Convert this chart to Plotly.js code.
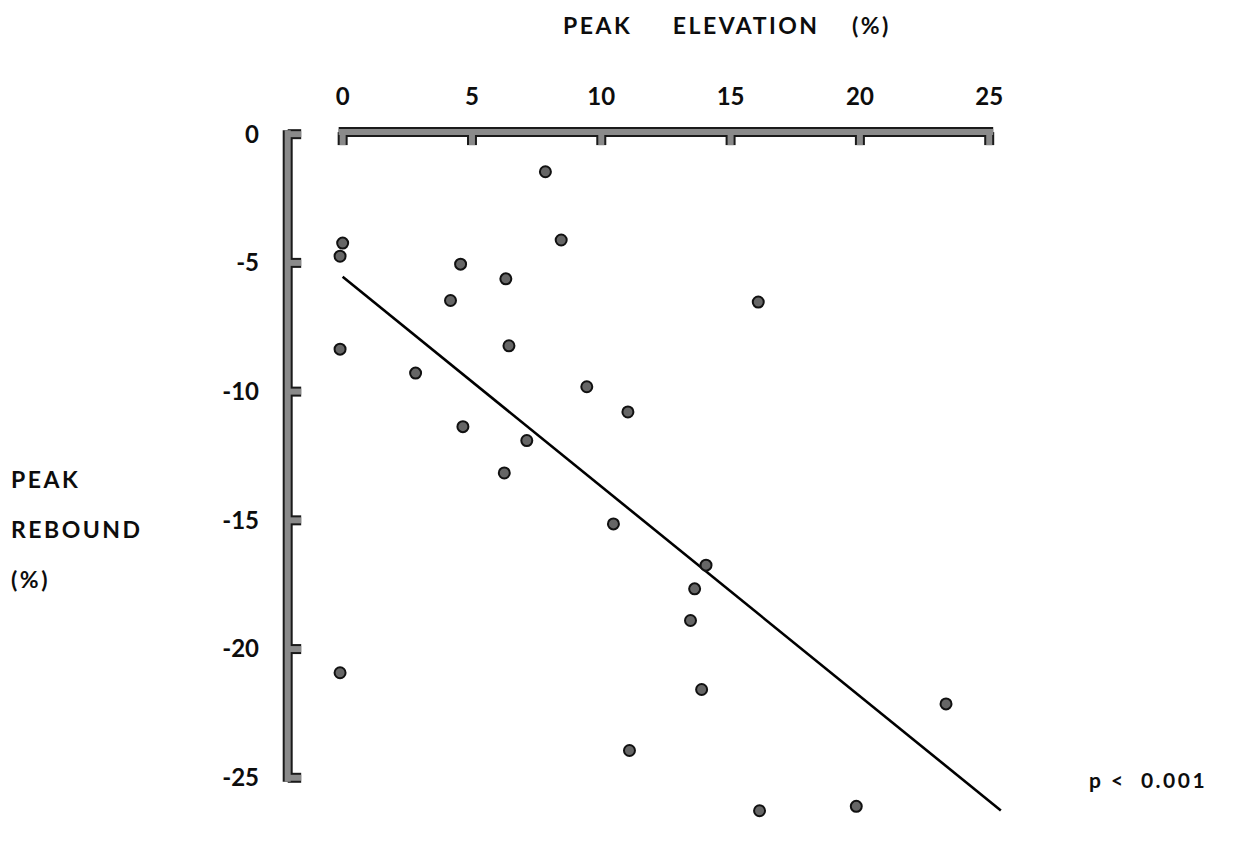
<!DOCTYPE html>
<html>
<head>
<meta charset="utf-8">
<script src="https://cdn.plot.ly/plotly-3.0.1.min.js"></script>
<style>
html,body{margin:0;padding:0;background:#fff;}
.annotation-text, .gtitle { letter-spacing: 2.5px; }
</style>
</head>
<body>
<div id="chart" style="width:1241px;height:851px;"></div>
<script>
// Data
const elevation = [7.84, 0.0, -0.1, 8.45, 4.56, 6.31, 4.17, 16.07, -0.1, 6.43, 2.82, 9.44, 11.03, 4.65, 7.12, 6.25,
                   10.47, 14.05, 13.61, 13.45, 13.88, 11.09, 23.33, 16.12, 19.86, 22.98, -0.1];
const rebound   = [-1.46, -4.23, -4.74, -4.11, -5.05, -5.62, -6.46, -6.52, -8.35, -8.22, -9.28, -9.81, -10.79, -11.36, -11.90, -13.16,
                   -15.14, -16.74, -17.66, -18.89, -21.57, -23.94, -22.13, -26.28, -26.11, -27.51, -20.92];
const fitX = [0, 25.45];
const fitY = [-5.54, -26.27];
const xTicks = [0, 5, 10, 15, 20, 25];
const yTicks = [0, -5, -10, -15, -20, -25];
const yTitleLines = ['PEAK', 'REBOUND', '(%)'];

const FONT = 'Lato, "Open Sans", sans-serif';
const TXT = '#0d0d0d';
const pxX = 25.88, pxY = 25.76;          // pixels per data unit
const yAxisX = -2.125;                    // where the y axis sits in x units
const xAxisY = 0.08;                      // where the x axis sits in y units

// Bracket-style axes drawn as shapes (dark outline + gray fill)
const segs = [];
const capX = 4 / pxX, capY = 4 / pxY;
segs.push([-capX, xAxisY, 25 + capX, xAxisY]);
xTicks.forEach(t => segs.push([t, xAxisY, t, xAxisY - 13 / pxY]));
segs.push([yAxisX, capY, yAxisX, -25 - capY]);
yTicks.forEach(t => segs.push([yAxisX, t, yAxisX + 13.5 / pxX, t]));
const shapes = [];
segs.forEach(s => shapes.push({type:'line', xref:'x', yref:'y', x0:s[0], y0:s[1], x1:s[2], y1:s[3],
  line:{color:'#1a1a1a', width:10}}));
segs.forEach(s => shapes.push({type:'line', xref:'x', yref:'y', x0:s[0], y0:s[1], x1:s[2], y1:s[3],
  line:{color:'#8a8a8a', width:6}}));

const traces = [
  {x: fitX, y: fitY, mode:'lines', line:{color:'#000', width:2.6}, hoverinfo:'skip', showlegend:false},
  {x: elevation, y: rebound, mode:'markers', cliponaxis:false, showlegend:false,
   marker:{size:11, color:'#666666', line:{color:'#111', width:2}}}
];

const annotations = yTitleLines.map((t, i) => ({
  text: '<b>' + t + '</b>', xref:'paper', yref:'paper', x: (9 - 278) / 750.5, xanchor:'left',
  y: (837.2 - (479 + i*50)) / 726.4, yanchor:'middle', showarrow:false,
  font:{family:FONT, size:23, color:TXT}
}));
annotations.push({
  text:'<b>p\u00a0<\u00a0\u00a00.001</b>', xref:'paper', yref:'paper',
  x: (1088 - 278) / 750.5, xanchor:'left', y: (837.2 - 780) / 726.4, yanchor:'middle',
  showarrow:false, font:{family:FONT, size:21, color:TXT}
});

const layout = {
  width:1241, height:851,
  margin:{l:278, r:212.5, t:110.8, b:13.8, pad:0},
  paper_bgcolor:'#fff', plot_bgcolor:'#fff',
  font:{family:FONT, color:TXT},
  title:{text:'<b>PEAK\u00a0\u00a0\u00a0\u00a0\u00a0ELEVATION\u00a0\u00a0\u00a0\u00a0(%)</b>', x:727/1241, xanchor:'center',
         y:1 - 26/851, yanchor:'middle', font:{family:FONT, size:23, color:TXT}},
  xaxis:{range:[-2.5, 26.5], side:'top', tickvals:xTicks, ticktext:xTicks.map(v => '<b>' + v + '</b>'),
         showgrid:false, zeroline:false, showline:false, ticks:'',
         tickfont:{family:FONT, size:24, color:TXT}, ticklabelstandoff:0, fixedrange:true},
  yaxis:{range:[-27.3, 0.9], tickvals:yTicks, ticktext:yTicks.map(v => '<b>' + (v === 0 ? '0' : '-' + Math.abs(v)) + '</b>'),
         showgrid:false, zeroline:false, showline:false, ticks:'',
         tickfont:{family:FONT, size:24, color:TXT}, ticklabelstandoff:18, fixedrange:true},
  shapes: shapes,
  annotations: annotations
};

Plotly.newPlot('chart', traces, layout, {displayModeBar:false, staticPlot:true});
</script>
</body>
</html>
